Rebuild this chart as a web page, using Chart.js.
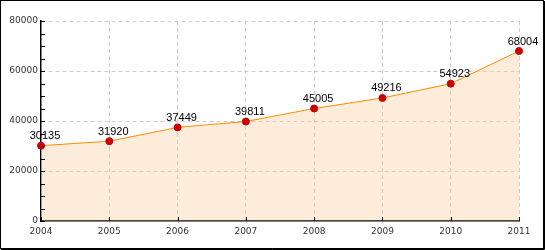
<!DOCTYPE html>
<html lang="en">
<head>
  <meta charset="UTF-8">
  <title>Values 2004-2011</title>
  <script src="https://cdn.jsdelivr.net/npm/chart.js"></script>
  <style>
    body { margin: 0; background: #fff; }
    canvas { display: block; }
  </style>
</head>
<body>
  <canvas id="chart" width="545" height="250"></canvas>

  <script>
    const years = ['2004', '2005', '2006', '2007', '2008', '2009', '2010', '2011'];
    const values = [30135, 31920, 37449, 39811, 45005, 49216, 54923, 68004];
    const yMax = 80000;
    const yMajor = 20000;
    const yMinor = 5000;

    // frame round the picture + inward tick marks + value labels
    const extras = {
      id: 'extras',
      beforeDraw(chart) {
        const c = chart.ctx;
        c.save();
        c.fillStyle = '#fff';
        c.fillRect(0, 0, chart.width, chart.height);
        c.strokeStyle = '#000';
        c.lineWidth = 1;
        c.strokeRect(0.5, 0.5, chart.width - 2, chart.height - 2);
        c.beginPath();
        c.moveTo(chart.width - 0.5, 1);
        c.lineTo(chart.width - 0.5, chart.height - 0.5);
        c.lineTo(1, chart.height - 0.5);
        c.stroke();
        c.restore();
      },
      afterDraw(chart) {
        const c = chart.ctx;
        const x = chart.scales.x, y = chart.scales.y;
        c.save();
        c.strokeStyle = '#000';
        c.lineWidth = 1;
        c.beginPath();
        y.ticks.forEach(t => {
          const py = Math.round(y.getPixelForValue(t.value)) + 0.5;
          c.moveTo(x.left, py);
          c.lineTo(x.left + 4, py);
        });
        years.forEach((_, i) => {
          const px = Math.round(x.getPixelForValue(i)) + 0.5;
          c.moveTo(px, y.bottom);
          c.lineTo(px, y.bottom - 4);
        });
        c.stroke();

        c.fillStyle = '#000';
        c.font = '11px "Liberation Sans", sans-serif';
        c.textAlign = 'center';
        c.textBaseline = 'bottom';
        chart.getDatasetMeta(0).data.forEach((pt, i) => {
          c.fillText(String(values[i]), pt.x + 4, pt.y - 4);
        });
        c.restore();
      }
    };

    new Chart(document.getElementById('chart').getContext('2d'), {
      type: 'line',
      data: {
        labels: years,
        datasets: [{
          data: values,
          borderColor: '#ff8c00',
          borderWidth: 1,
          backgroundColor: 'rgba(250,200,150,0.35)',
          fill: 'origin',
          tension: 0,
          pointRadius: 3.5,
          pointBackgroundColor: '#cc0000',
          pointBorderColor: '#cc0000',
          pointBorderWidth: 1
        }]
      },
      options: {
        responsive: false,
        animation: false,
        layout: { padding: { top: 21, right: 26, left: 0, bottom: 0 } },
        plugins: { legend: { display: false }, tooltip: { enabled: false } },
        scales: {
          x: {
            offset: false,
            afterFit: s => { s.height = 29; },
            grid: {
              drawTicks: false,
              color: ctx => ctx.index === 0 ? 'transparent' : '#cccccc'
            },
            border: { color: '#000', width: 1.5, dash: [4, 3] },
            ticks: {
              color: '#333',
              font: { family: '"DejaVu Sans", sans-serif', size: 9 },
              padding: 5,
              maxRotation: 0,
              autoSkip: false
            }
          },
          y: {
            min: 0,
            max: yMax,
            afterFit: s => { s.width = 41; },
            grid: {
              drawTicks: false,
              color: ctx => (ctx.tick && ctx.tick.value % yMajor === 0 && ctx.tick.value !== 0) ? '#cccccc' : 'transparent'
            },
            border: { color: '#000', width: 1.5, dash: [4, 3] },
            ticks: {
              stepSize: yMinor,
              autoSkip: false,
              color: '#333',
              font: { family: '"DejaVu Sans", sans-serif', size: 9 },
              padding: 3,
              callback: v => v % yMajor === 0 ? String(v) : ''
            }
          }
        }
      },
      plugins: [extras]
    });
  </script>
</body>
</html>
